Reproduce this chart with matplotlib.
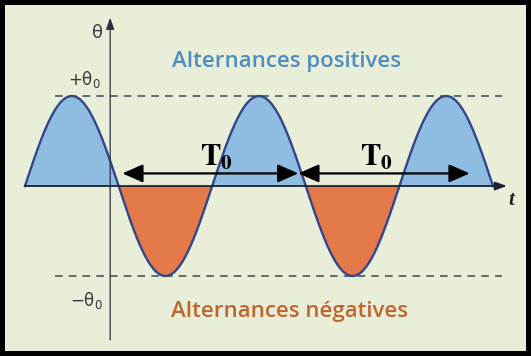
import numpy as np
import matplotlib.pyplot as plt

# signal parameters (theta0 = amplitude, half period = 1 time unit)
theta0 = 1.0
half_period = 1.0
n_half = 5

# period arrows (start, end) along the time axis and their label positions
arrows_T0 = [(1.04, 2.92), (2.92, 4.75)]
labels_T0 = ["T0", "T0"]
label_x_T0 = [2.05, 3.76]

bg = '#e8eed8'
blue_fill = '#8fbde2'
orange_fill = '#e4794a'
curve_col = '#34458c'
dash_col = '#3a4a55'

t = np.linspace(0, n_half * half_period, 600)
theta = theta0 * np.sin(np.pi * t / half_period)

fig = plt.figure(figsize=(5.31, 3.56), dpi=100)
fig.patch.set_facecolor(bg)
fig.patch.set_edgecolor('black')
fig.patch.set_linewidth(7)
ax = fig.add_axes([0, 0, 1, 1])
ax.set_facecolor(bg)
ax.set_xlim(-0.267, 5.406)
ax.set_ylim(-1.889, 2.067)
ax.axis('off')

# filled half waves
ax.fill_between(t, theta, 0, where=theta >= 0, color=blue_fill, lw=0, interpolate=True)
ax.fill_between(t, theta, 0, where=theta <= 0, color=orange_fill, lw=0, interpolate=True)
ax.plot(t, theta, color=curve_col, lw=1.7)

# dashed +theta0 / -theta0 levels
ax.plot([0.32, 5.1], [theta0, theta0], ls=(0, (5, 4)), color=dash_col, lw=1.1)
ax.plot([0.32, 5.1], [-theta0, -theta0], ls=(0, (5, 4)), color=dash_col, lw=1.1)

# axes with arrows
ax.annotate('', xy=(5.15, 0), xytext=(0, 0),
            arrowprops=dict(arrowstyle='-|>,head_length=0.7,head_width=0.25',
                            mutation_scale=10, lw=1.3, color='#1e2230', shrinkA=0, shrinkB=0))
ax.annotate('', xy=(0.91, 1.87), xytext=(0.91, -1.71),
            arrowprops=dict(arrowstyle='-|>,head_length=0.7,head_width=0.25',
                            mutation_scale=10, lw=0.9, color='#2a3040', shrinkA=0, shrinkB=0))

# T0 arrows
for (a, b), lab, lx in zip(arrows_T0, labels_T0, label_x_T0):
    ax.annotate('', xy=(b, 0.14), xytext=(a, 0.14),
                arrowprops=dict(arrowstyle='<|-|>,head_length=1.25,head_width=0.55',
                                mutation_scale=10, lw=1.6, color='black', shrinkA=0, shrinkB=0))
    ax.text(lx, 0.32, r'$\mathbf{T_0}$', fontsize=22, ha='center', va='center',
            math_fontfamily='stix')

# labels
ax.text(0.77, 1.70, 'θ', fontsize=13, color='#333a40', ha='center', va='center')
ax.text(0.64, 1.18, r'+θ$_\mathregular{0}$', fontsize=12, color='#333a40', ha='center', va='center')
ax.text(0.66, -1.27, r'−θ$_\mathregular{0}$', fontsize=12, color='#333a40', ha='center', va='center')
ax.text(5.20, -0.16, 't', fontsize=15, color='#222', ha='center', va='center',
        family='Liberation Serif', style='italic', weight='bold')
ax.text(2.79, 1.38, 'Alternances positives', fontsize=16, color='#4f8cc0',
        ha='center', va='center', family='Open Sans', weight='semibold')
ax.text(2.83, -1.40, 'Alternances négatives', fontsize=16, color='#c0652f',
        ha='center', va='center', family='Open Sans', weight='semibold')

fig.savefig('out.png', dpi=100, facecolor=fig.get_facecolor(), edgecolor='black')
